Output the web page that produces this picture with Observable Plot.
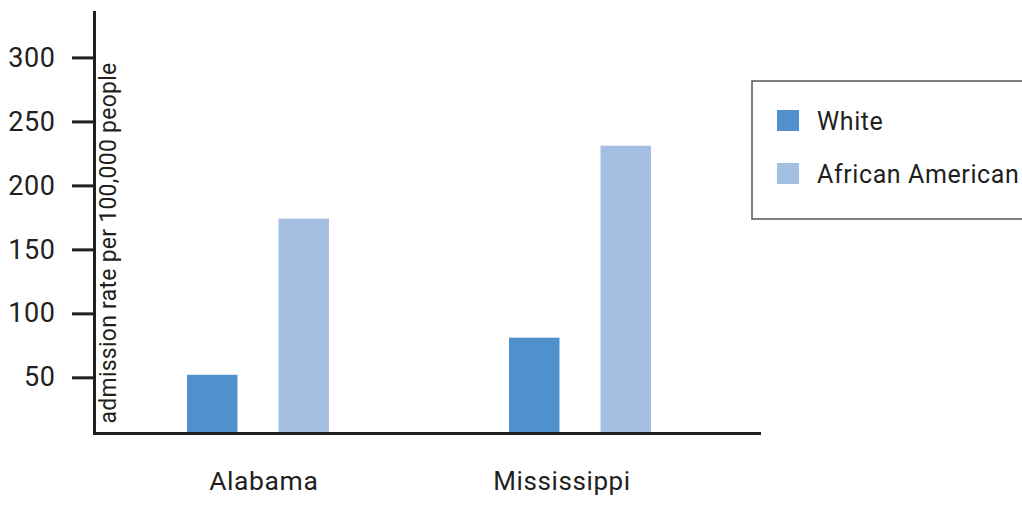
<!DOCTYPE html>
<html>
<head>
<meta charset="utf-8">
<script src="https://cdn.jsdelivr.net/npm/d3@7"></script>
<script src="https://cdn.jsdelivr.net/npm/@observablehq/plot@0.6"></script>
<style>
  html, body { margin: 0; padding: 0; background: #fff; overflow: hidden; }
  #wrap { position: relative; width: 1022px; height: 506px; font-family: Roboto, sans-serif; }
  #legend { position: absolute; left: 0; top: 0; }
</style>
</head>
<body>
<div id="wrap"></div>
<script>
// ---- data ----
const states = ["Alabama", "Mississippi"];
const races = ["White", "African American"];
const whiteRates = [52, 81];
const africanAmericanRates = [174, 231];
const yTicks = [50, 100, 150, 200, 250, 300];
const yLabel = "admission rate per 100,000 people";

const colors = {"White": "#5091cd", "African American": "#a5bfe3"};
const ink = "#231f20";

const rows = [];
states.forEach((s, i) => {
  rows.push({state: s, race: "White", rate: whiteRates[i]});
  rows.push({state: s, race: "African American", rate: africanAmericanRates[i]});
});

const yDomain = [6.5, 335.5];

const chart = Plot.plot({
  width: 1022,
  height: 506,
  marginLeft: 94,
  marginRight: 261,
  marginTop: 12,
  marginBottom: 73,
  style: {fontFamily: "Roboto, sans-serif", color: ink, background: "transparent"},
  x: {type: "band", domain: states, paddingInner: 0.558, paddingOuter: 0.313, align: 0.459, axis: null},
  y: {domain: yDomain, axis: null},
  marks: [
    Plot.barY(rows.filter(d => d.race === "White"), {
      x: "state", y: "rate", fill: colors["White"], insetRight: 91.5, clip: true
    }),
    Plot.barY(rows.filter(d => d.race === "African American"), {
      x: "state", y: "rate", fill: colors["African American"], insetLeft: 91.5, clip: true
    }),
    Plot.axisY({ticks: yTicks, tickSize: 22, tickPadding: 17, strokeWidth: 3, stroke: ink, fill: ink, fontSize: 27, label: null}),
    Plot.ruleY([yDomain[0]], {stroke: ink, strokeWidth: 3}),
    Plot.frame({anchor: "left", stroke: ink, strokeWidth: 3}),
    Plot.text([yLabel], {
      frameAnchor: "bottom-left", rotate: -90, textAnchor: "start",
      dx: 21.5, dy: -10, fontSize: 23, fill: ink, text: d => d, className: "ylab"
    }),
    Plot.text([states[0]], {x: d => d, frameAnchor: "bottom", dy: 56, dx: 5.3, fontSize: 26.5, fill: ink, text: d => d}),
    Plot.text([states[1]], {x: d => d, frameAnchor: "bottom", dy: 56, dx: -18.5, fontSize: 26, fill: ink, text: d => d})
  ]
});

const wrap = document.getElementById("wrap");
wrap.appendChild(chart);
d3.select(chart).selectAll("text").style("letter-spacing", "0.6px");
d3.select(chart).selectAll(".ylab text").style("letter-spacing", "0.25px");

// ---- legend (overlay) ----
const lg = d3.select(wrap).append("svg")
  .attr("id", "legend").attr("width", 1022).attr("height", 506)
  .style("font-family", "Roboto, sans-serif");
lg.append("rect").attr("x", 752).attr("y", 81).attr("width", 320).attr("height", 138)
  .attr("fill", "none").attr("stroke", "#555").attr("stroke-width", 1.5);
races.forEach((r, i) => {
  const top = 110 + i * 53;
  lg.append("rect").attr("x", 777).attr("y", top).attr("width", 22).attr("height", 21).attr("fill", colors[r]);
  lg.append("text").attr("x", 817).attr("y", top + 20).attr("fill", ink)
    .attr("font-size", 25).style("letter-spacing", "0.6px").text(r);
});
</script>
</body>
</html>
